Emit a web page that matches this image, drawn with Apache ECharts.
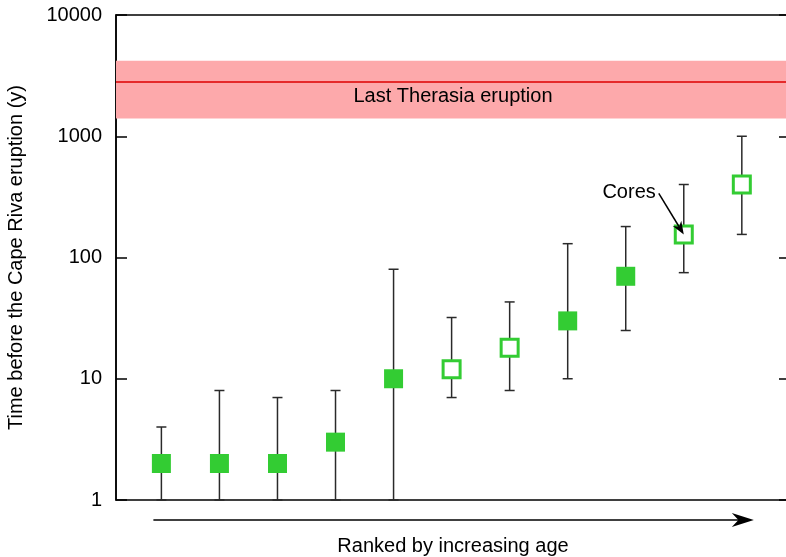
<!DOCTYPE html>
<html>
<head>
<meta charset="utf-8">
<script src="https://cdn.jsdelivr.net/npm/echarts@6/dist/echarts.min.js"></script>
<style>
html,body{margin:0;padding:0;background:#fff;}
#chart{width:786px;height:557px;}
</style>
</head>
<body>
<div id="chart"></div>
<script>
// Data
var ranks = [1, 2, 3, 4, 5, 6, 7, 8, 9, 10, 11];
var ages = [2, 2, 2, 3, 10, 12, 18, 30, 70, 155, 400];
var lowErr = [1, 1, 1, 1, 1, 7, 8, 10, 25, 75, 155];
var highErr = [4, 8, 7, 8, 80, 32, 43, 130, 180, 400, 1000];
var isCore = [0, 0, 0, 0, 0, 1, 1, 0, 0, 1, 1];
var yTicks = [1, 10, 100, 1000, 10000];
var therasiaBand = [1400, 4200];
var therasiaAge = 2800;
var coresPoint = 10; // rank pointed to by the "Cores" label

var FONT = 'Liberation Sans, Arial, sans-serif';
var GREEN = '#33cc33';

var filled = [], hollow = [], errs = [];
for (var i = 0; i < ranks.length; i++) {
  (isCore[i] ? hollow : filled).push([ranks[i], ages[i]]);
  errs.push([ranks[i], lowErr[i], highErr[i]]);
}

var chart = echarts.init(document.getElementById('chart'), null, {renderer: 'canvas'});

var option = {
  animation: false,
  backgroundColor: '#fff',
  grid: {left: 116, top: 15, width: 674, height: 485, containLabel: false, outerBoundsMode: 'none',
         show: true, borderColor: '#000', borderWidth: 1.5, backgroundColor: 'transparent'},
  xAxis: {
    type: 'value', min: 0.218, max: 11.83,
    axisLine: {show: false}, axisTick: {show: false}, axisLabel: {show: false}, splitLine: {show: false},
    name: 'Ranked by increasing age', nameLocation: 'middle', nameGap: 36,
    nameTextStyle: {fontFamily: FONT, fontSize: 20, color: '#000'}
  },
  yAxis: [{
    type: 'log', logBase: 10, min: yTicks[0], max: yTicks[yTicks.length - 1],
    axisLine: {show: true, lineStyle: {color: '#000', width: 1.5}},
    axisTick: {show: true, inside: true, length: 11, lineStyle: {color: '#000', width: 1.5}},
    minorTick: {show: false},
    axisLabel: {show: true, margin: 14, fontFamily: FONT, fontSize: 20, color: '#000',
                formatter: function (v) { return String(Math.round(v)); }},
    splitLine: {show: false},
    name: 'Time before the Cape Riva eruption (y)', nameLocation: 'middle', nameGap: 90,
    nameTextStyle: {fontFamily: FONT, fontSize: 20, color: '#000'}
  }, {
    type: 'log', logBase: 10, min: yTicks[0], max: yTicks[yTicks.length - 1], position: 'right',
    axisLine: {show: false},
    axisTick: {show: true, inside: true, length: 11, lineStyle: {color: '#000', width: 1.5}},
    axisLabel: {show: false}, splitLine: {show: false}
  }],
  series: [
    {
      type: 'line', data: [], silent: true,
      markArea: {
        silent: true,
        itemStyle: {color: '#fda9ab', opacity: 1},
        label: {show: true, position: 'inside', formatter: 'Last Therasia eruption',
                fontFamily: FONT, fontSize: 20, color: '#000', offset: [0, 7]},
        data: [[{yAxis: therasiaBand[0]}, {yAxis: therasiaBand[1]}]]
      },
      markLine: {
        silent: true, symbol: 'none', label: {show: false},
        lineStyle: {color: '#dd0000', width: 1.5, type: 'solid'},
        data: [{yAxis: therasiaAge}]
      }
    },
    {
      type: 'custom', z: 2, data: errs, silent: true,
      renderItem: function (params, api) {
        var x = api.value(0);
        var lo = api.coord([x, api.value(1)]);
        var hi = api.coord([x, api.value(2)]);
        var cw = 5;
        var st = {stroke: '#2a2a2a', lineWidth: 1.5};
        return {type: 'group', children: [
          {type: 'line', shape: {x1: lo[0], y1: lo[1], x2: hi[0], y2: hi[1]}, style: st},
          {type: 'line', shape: {x1: hi[0] - cw, y1: hi[1], x2: hi[0] + cw, y2: hi[1]}, style: st},
          {type: 'line', shape: {x1: lo[0] - cw, y1: lo[1], x2: lo[0] + cw, y2: lo[1]}, style: st}
        ]};
      }
    },
    {
      type: 'scatter', z: 3, data: filled, symbol: 'rect', symbolSize: 19,
      itemStyle: {color: GREEN, opacity: 1}
    },
    {
      type: 'scatter', z: 3, data: hollow, symbol: 'rect', symbolSize: 17,
      itemStyle: {color: '#fff', borderColor: GREEN, borderWidth: 3, opacity: 1}
    }
  ]
};
chart.setOption(option);

// annotations: ranking arrow below the axis and "Cores" pointer
var p0 = chart.convertToPixel({xAxisIndex: 0, yAxisIndex: 0}, [ranks[0], yTicks[0]]);
var pN = chart.convertToPixel({xAxisIndex: 0, yAxisIndex: 0}, [ranks[ranks.length - 1], yTicks[0]]);
var ay = p0[1] + 20;
var ax0 = p0[0] - 8, ax1 = pN[0] + 12;
var cp = chart.convertToPixel({xAxisIndex: 0, yAxisIndex: 0}, [coresPoint, ages[coresPoint - 1]]);
var tipX = cp[0], tipY = cp[1];
var tailX = cp[0] - 25, tailY = cp[1] - 41;
var ang = Math.atan2(tipY - tailY, tipX - tailX);
function headPts(x, y, a, len, half) {
  return [[x, y],
    [x - len * Math.cos(a) + half * Math.sin(a), y - len * Math.sin(a) - half * Math.cos(a)],
    [x - len * 0.7 * Math.cos(a), y - len * 0.7 * Math.sin(a)],
    [x - len * Math.cos(a) - half * Math.sin(a), y - len * Math.sin(a) + half * Math.cos(a)]];
}
chart.setOption({
  graphic: [
    {type: 'line', z: 100, shape: {x1: ax0, y1: ay, x2: ax1 - 10, y2: ay}, style: {stroke: '#000', lineWidth: 1.5}},
    {type: 'polygon', z: 100, shape: {points: headPts(ax1, ay, 0, 22, 7)}, style: {fill: '#000'}},
    {type: 'line', z: 100, shape: {x1: tailX, y1: tailY, x2: tipX - 9 * Math.cos(ang), y2: tipY - 9 * Math.sin(ang)}, style: {stroke: '#000', lineWidth: 1.5}},
    {type: 'polygon', z: 100, shape: {points: headPts(tipX, tipY, ang, 13, 5)}, style: {fill: '#000'}},
    {type: 'text', z: 100, x: tailX - 3, y: tailY - 1, style: {text: 'Cores', font: '20px ' + FONT, fill: '#000', align: 'right', verticalAlign: 'middle'}}
  ]
});
</script>
</body>
</html>
